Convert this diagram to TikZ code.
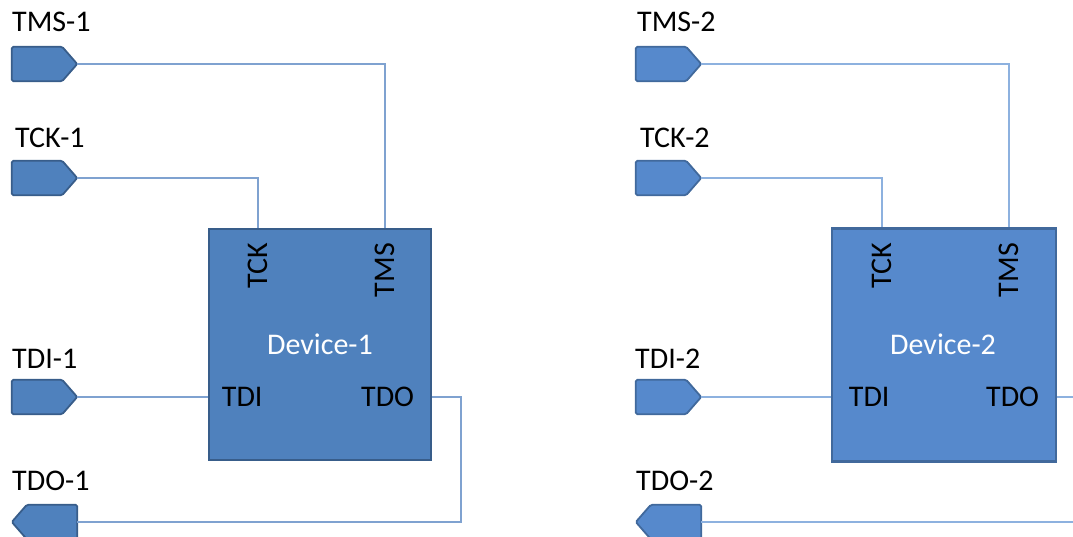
\documentclass[tikz,border=0pt]{standalone}
\usepackage{fontspec}
\setmainfont{Carlito}
\definecolor{fillA}{HTML}{4F81BD}
\definecolor{edgeA}{HTML}{385D8A}
\definecolor{fillB}{HTML}{5689CC}
\definecolor{edgeB}{HTML}{41699C}
\definecolor{wireA}{HTML}{7FA2D0}
\definecolor{wireB}{HTML}{8DB1DF}
\tikzset{
  lbl/.style={inner sep=0pt, anchor=base west, font=\fontsize{30}{36}\selectfont},
  portbox/.style={rectangle, inner sep=0pt, minimum width=65pt, minimum height=34pt},
  portline/.style={line width=1.8pt, rounded corners=1.5pt},
  portA/.style={portline, fill=fillA, draw=edgeA},
  portB/.style={portline, fill=fillB, draw=edgeB},
  devbox/.style={rectangle, minimum width=222pt, minimum height=231pt, line width=2.6pt, inner sep=0pt},
  devA/.style={devbox, fill=fillA, draw=edgeA},
  devB/.style={devbox, fill=fillB, draw=edgeB},
  pin/.style={inner sep=0pt, font=\fontsize{30}{36}\selectfont},
  devname/.style={inner sep=0pt, anchor=base, text=white, font=\fontsize{30}{36}\selectfont},
  wire/.style={line width=1.3pt},
}
% port pointing right / left, drawn on a named node
\newcommand\outport[2]{%
  \draw[#2] (#1.north west) -- ([xshift=-15pt]#1.north east) -- (#1.east)
    -- ([xshift=-15pt]#1.south east) -- (#1.south west) -- cycle;}
\newcommand\inport[2]{%
  \draw[#2] (#1.north east) -- ([xshift=15pt]#1.north west) -- (#1.west)
    -- ([xshift=15pt]#1.south west) -- (#1.south east) -- cycle;}
\begin{document}
\begin{tikzpicture}[x=1pt,y=-1pt]
\useasboundingbox (0,0) rectangle (1073,537);
% ---------- left block ----------
\node[lbl] (l_tms) at (12,32) {TMS-1};
\node[lbl] (l_tck) at (15,148) {TCK-1};
\node[lbl] (l_tdi) at (12,368) {TDI-1};
\node[lbl] (l_tdo) at (12,490) {TDO-1};
\node[portbox] (tms1) at (44.5,64) {};
\node[portbox] (tck1) at (44.5,178) {};
\node[portbox] (tdi1) at (44.5,397) {};
\node[portbox] (tdo1) at (44.5,522) {};
\outport{tms1}{portA}
\outport{tck1}{portA}
\outport{tdi1}{portA}
\inport{tdo1}{portA}
\node[devA] (dev1) at (320,344.5) {};
\node[pin, rotate=90, anchor=east] (d1tck) at (258,243) {TCK};
\node[pin, rotate=90, anchor=east] (d1tms) at (385,243) {TMS};
\node[devname] (d1name) at (320,354) {Device-1};
\node[pin, anchor=base west] (d1tdi) at ([xshift=14pt]dev1.west |- 0,406) {TDI};
\node[pin, anchor=base east] (d1tdo) at ([xshift=-18pt]dev1.east |- 0,406) {TDO};
\coordinate (l_turn) at (461,397);
\begin{scope}[wire, draw=wireA]
\draw (tms1.east) -| (d1tms |- dev1.north);
\draw (tck1.east) -| (d1tck |- dev1.north);
\draw (tdi1.east) -- (dev1.west |- tdi1.east);
\draw (dev1.east |- tdi1.east) -- (l_turn) |- (tdo1.east);
\end{scope}
% ---------- right block ----------
\node[lbl] (r_tms) at (637,32) {TMS-2};
\node[lbl] (r_tck) at (640,148) {TCK-2};
\node[lbl] (r_tdi) at (635,368) {TDI-2};
\node[lbl] (r_tdo) at (636,490) {TDO-2};
\node[portbox] (tms2) at (668.5,64) {};
\node[portbox] (tck2) at (668.5,178) {};
\node[portbox] (tdi2) at (668.5,397) {};
\node[portbox] (tdo2) at (668.5,522) {};
\outport{tms2}{portB}
\outport{tck2}{portB}
\outport{tdi2}{portB}
\inport{tdo2}{portB}
\node[devB, minimum width=224pt, minimum height=233pt] (dev2) at (944,345) {};
\node[pin, rotate=90, anchor=east] (d2tck) at (882,243) {TCK};
\node[pin, rotate=90, anchor=east] (d2tms) at (1009,243) {TMS};
\node[devname] (d2name) at (943,354) {Device-2};
\node[pin, anchor=base west] (d2tdi) at ([xshift=18pt]dev2.west |- 0,406) {TDI};
\node[pin, anchor=base east] (d2tdo) at ([xshift=-18pt]dev2.east |- 0,406) {TDO};
\coordinate (r_out) at (1076,397);
\coordinate (r_in) at (1076,522);
\begin{scope}[wire, draw=wireB]
\draw (tms2.east) -| (d2tms |- dev2.north);
\draw (tck2.east) -| (d2tck |- dev2.north);
\draw (tdi2.east) -- (dev2.west |- tdi2.east);
\draw (dev2.east |- tdi2.east) -- (r_out);
\draw (r_in) -- (tdo2.east);
\end{scope}
\end{tikzpicture}
\end{document}
